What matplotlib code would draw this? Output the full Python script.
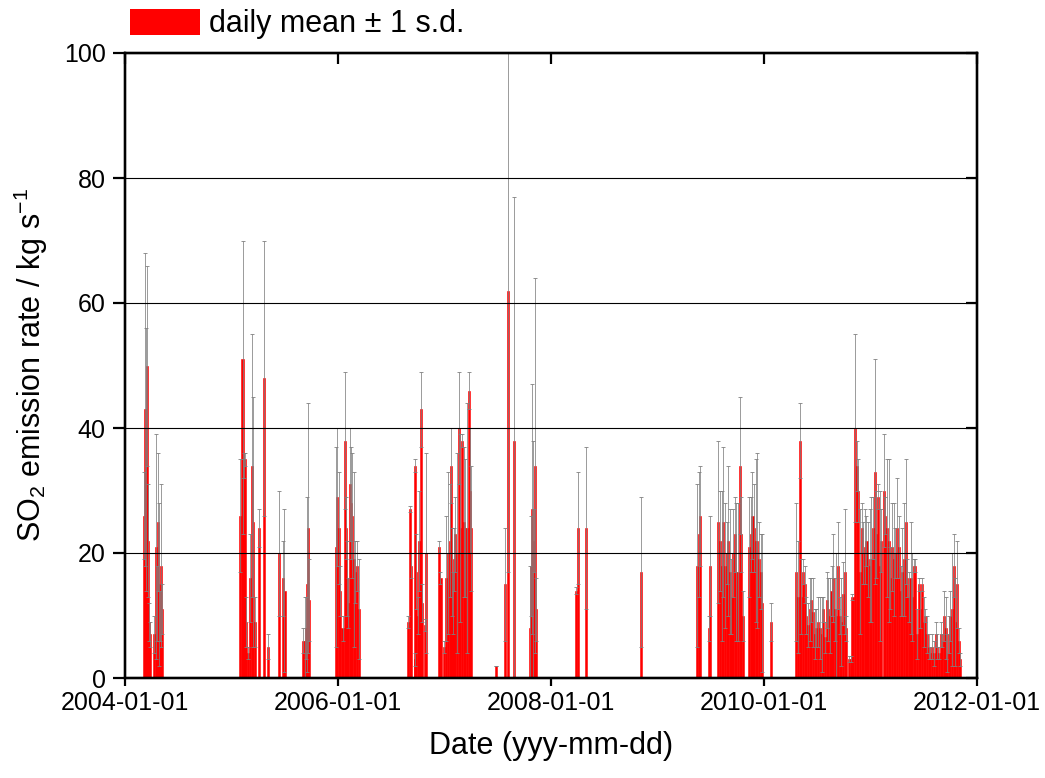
import matplotlib
matplotlib.use('Agg')
import matplotlib.pyplot as plt
import matplotlib.dates as mdates
from matplotlib.patches import Patch
import pandas as pd

plt.rcParams['font.family'] = ['Liberation Sans', 'DejaVu Sans']
plt.rcParams['mathtext.fontset'] = 'custom'
plt.rcParams['mathtext.rm'] = 'Liberation Sans'
plt.rcParams['mathtext.it'] = 'Liberation Sans:italic'

# dates given as year-dayofyear
dates = [
    # 2004
    '2004-065', '2004-069', '2004-072', '2004-077', '2004-080', '2004-082', '2004-086',
    '2004-102', '2004-106', '2004-110', '2004-113', '2004-118', '2004-121', '2004-125', '2004-127',
    # 2005
    '2005-031', '2005-038', '2005-040', '2005-042', '2005-046', '2005-050', '2005-058', '2005-065',
    '2005-071', '2005-074', '2005-080', '2005-093', '2005-111', '2005-125',
    '2005-163', '2005-177', '2005-182',
    '2005-246', '2005-251', '2005-255', '2005-259', '2005-263', '2005-266',
    '2005-358', '2005-361',
    # 2006
    '2006-004', '2006-009', '2006-016', '2006-023', '2006-027', '2006-032', '2006-036', '2006-041',
    '2006-045', '2006-050', '2006-055', '2006-060', '2006-066', '2006-072',
    '2006-242', '2006-247', '2006-250', '2006-263', '2006-266', '2006-269', '2006-276', '2006-280',
    '2006-284', '2006-290', '2006-298', '2006-303', '2006-347', '2006-352', '2006-363',
    # 2007
    '2007-007', '2007-013', '2007-019', '2007-022', '2007-026', '2007-030', '2007-033', '2007-038',
    '2007-044', '2007-049', '2007-055', '2007-061', '2007-067', '2007-072', '2007-078', '2007-084',
    '2007-087', '2007-090', '2007-179', '2007-207', '2007-218', '2007-238',
    '2007-293', '2007-296', '2007-300', '2007-303', '2007-307', '2007-311', '2007-315',
    # 2008
    '2008-088', '2008-094', '2008-122', '2008-311',
    # 2009
    '2009-136', '2009-141', '2009-145', '2009-177', '2009-179', '2009-208', '2009-214', '2009-220',
    '2009-225', '2009-231', '2009-237', '2009-242', '2009-248', '2009-254', '2009-259', '2009-265',
    '2009-271', '2009-276', '2009-282', '2009-288', '2009-294', '2009-314', '2009-320', '2009-326',
    '2009-331', '2009-337', '2009-343', '2009-348', '2009-354', '2009-360',
    # 2010
    '2010-026', '2010-109', '2010-116', '2010-123', '2010-129', '2010-134', '2010-140', '2010-146',
    '2010-152', '2010-157', '2010-163', '2010-169', '2010-175', '2010-180', '2010-186', '2010-192',
    '2010-198', '2010-203', '2010-209', '2010-215', '2010-220', '2010-226', '2010-232', '2010-237',
    '2010-243', '2010-249', '2010-254', '2010-260', '2010-266', '2010-272', '2010-277', '2010-283',
    '2010-291', '2010-298', '2010-304', '2010-313', '2010-318', '2010-323', '2010-329', '2010-335',
    '2010-340', '2010-346', '2010-352', '2010-357', '2010-363',
    # 2011
    '2011-004', '2011-010', '2011-015', '2011-021', '2011-027', '2011-033', '2011-038', '2011-046',
    '2011-052', '2011-058', '2011-063', '2011-069', '2011-075', '2011-081', '2011-086', '2011-092',
    '2011-098', '2011-104', '2011-109', '2011-115', '2011-121', '2011-126', '2011-132', '2011-138',
    '2011-143', '2011-149', '2011-155', '2011-161', '2011-166', '2011-172', '2011-178', '2011-184',
    '2011-189', '2011-195', '2011-201', '2011-206', '2011-212', '2011-218', '2011-224', '2011-229',
    '2011-235', '2011-241', '2011-246', '2011-252', '2011-258', '2011-263', '2011-269', '2011-275',
    '2011-281', '2011-286', '2011-292', '2011-298', '2011-304', '2011-309',
]

means = [
    # 2004
    26, 43, 35, 50, 22, 9, 7,
    7, 21, 12, 25, 15, 10, 18, 11,
    # 2005
    26, 51, 29, 34, 35, 9, 4, 16,
    34, 25, 9, 24, 48, 5,
    20, 16, 14,
    6, 6, 8, 15, 24, 12.5,
    21, 29,
    # 2006
    24, 14, 8, 38, 24, 16, 12, 31,
    28, 26, 19, 17, 18, 11,
    9, 27, 18, 34, 3, 17, 10, 22,
    43, 12, 8.5, 20, 21, 16, 5,
    # 2007
    16, 20, 22, 34, 17, 12, 19, 23,
    20, 40, 24, 38, 25, 24, 24, 46,
    30, 24, 2, 15, 62, 38,
    8, 18, 27, 17, 22, 34, 11,
    # 2008
    14, 24, 24, 17,
    # 2009
    18, 23, 26, 8, 18, 25, 22, 18,
    25, 18, 20, 22, 17, 13, 20, 23,
    17, 17, 34, 23, 10, 21, 23, 26,
    24, 22, 22, 19, 17, 12,
    # 2010
    9, 17, 13, 38, 13, 17, 15, 10,
    8.5, 11, 12.5, 10.5, 7, 8, 9, 8,
    7, 11, 6.5, 12.5, 11, 10, 14, 16,
    11, 10, 18, 10, 9, 13.5, 17, 8,
    3, 3, 13, 40, 34, 30, 17, 24,
    20, 21, 22, 19, 18,
    # 2011
    19, 24, 33, 23, 29, 18, 22, 30,
    26, 24, 22, 16, 21, 19, 20, 24,
    21, 14, 17, 19, 25, 16, 13, 16,
    13, 18, 18, 7, 15, 11, 15, 9,
    10, 7, 5, 4, 5, 4, 7, 5,
    4, 7, 6, 10, 8, 4, 7, 10,
    11, 18, 9, 15, 6, 3,
]

sds = [
    # 2004
    7, 25, 21, 16, 9, 3, 2,
    3, 18, 6, 11, 13, 4, 13, 4,
    # 2005
    9, 19, 6, 2, 1, 4, 1, 7,
    21, 20, 4, 3, 22, 2,
    10, 6, 13,
    2, 7, 5, 14, 20, 6.5,
    16, 11,
    # 2006
    9, 4, 2, 11, 5, 6, 4, 9,
    9, 10, 14, 5, 4, 8,
    1, 0.5, 2, 1, 1, 6, 3, 8,
    6, 3, 1, 16, 1, 1, 1,
    # 2007
    10, 13, 9, 6, 7, 5, 5, 6,
    16, 9, 15, 1, 12, 11, 20, 3,
    10, 10, 0, 9, 45, 39,
    10, 8, 20, 21, 5, 30, 5,
    # 2008
    0.5, 9, 13, 12,
    # 2009
    13, 10, 8, 2, 8, 13, 8, 12,
    12, 10, 5, 12, 10, 6, 7, 6,
    11, 11, 11, 6, 4, 8, 6, 7,
    7, 13, 14, 6, 6, 11,
    # 2010
    3, 11, 9, 6, 6, 2, 3, 3,
    3.5, 5, 3.5, 5.5, 4, 3, 4, 5,
    6, 2, 2.5, 4.5, 5, 6, 4, 7,
    5, 10, 7, 3, 7, 5, 10, 2,
    0.5, 0.5, 0.5, 15, 4, 5, 10, 4,
    5, 6, 4, 6, 9,
    # 2011
    10, 5, 18, 7, 2, 12, 5, 9,
    3, 11, 13, 5, 7, 9, 4, 8,
    5, 4, 7, 9, 10, 3, 4, 9,
    7, 1, 1, 4, 1, 3, 1, 4,
    1, 3, 2, 1, 2, 2, 2, 2,
    1, 2, 1, 4, 5, 3, 3, 4,
    9, 5, 7, 7, 2, 1,
]

x = pd.to_datetime(dates, format='%Y-%j')

W, H = 1045, 778
fig = plt.figure(figsize=(W / 100, H / 100), dpi=100)
ax = fig.add_axes([125 / W, 100 / H, 852 / W, 625 / H])

ax.bar(x, means, width=7, color='#ff0000', edgecolor='#ff0000', linewidth=0.4, zorder=1)
ax.errorbar(x, means, yerr=sds, fmt='none', ecolor='#808080', elinewidth=0.55,
            capsize=1.5, capthick=0.6, zorder=2)

xmin, xmax = pd.Timestamp('2004-01-01'), pd.Timestamp('2012-01-01')
ax.set_xlim(xmin, xmax)
ax.set_ylim(0, 100)
ax.set_yticks([0, 20, 40, 60, 80, 100])
ax.xaxis.set_major_locator(mdates.YearLocator(2))
ax.xaxis.set_major_formatter(mdates.DateFormatter('%Y-%m-%d'))
ax.yaxis.grid(True, color='black', linewidth=0.8)
ax.set_axisbelow(False)

for s in ax.spines.values():
    s.set_linewidth(1.6)
ax.tick_params(axis='both', direction='out', width=1.6, labelsize=18)
ax.tick_params(axis='x', length=6, pad=3)
ax.tick_params(axis='y', length=9, pad=5)

# top and right inward ticks
axt = ax.twiny()
axt.set_xlim(xmin, xmax)
axt.xaxis.set_major_locator(mdates.YearLocator(2))
axt.tick_params(axis='x', direction='in', length=8, width=1.6, labeltop=False)
axr = ax.twinx()
axr.set_ylim(0, 100)
axr.set_yticks([0, 20, 40, 60, 80, 100])
axr.tick_params(axis='y', direction='in', length=8, width=1.6, labelright=False)
for a in (axt, axr):
    for s in a.spines.values():
        s.set_linewidth(1.6)

ax.set_xlabel('Date (yyy-mm-dd)', fontsize=22, labelpad=12)
ax.set_ylabel('SO$_2$ emission rate / kg s$^{-1}$', fontsize=22, labelpad=10)

fig.legend(handles=[Patch(facecolor='#ff0000', edgecolor='none')],
           labels=['daily mean \u00b1 1 s.d.'], loc='center left',
           bbox_to_anchor=(130 / W, 1 - 24 / H), frameon=False, fontsize=22,
           handlelength=2.3, handleheight=0.95, handletextpad=0.3,
           borderpad=0, borderaxespad=0)

fig.savefig('out.png', dpi=100)
